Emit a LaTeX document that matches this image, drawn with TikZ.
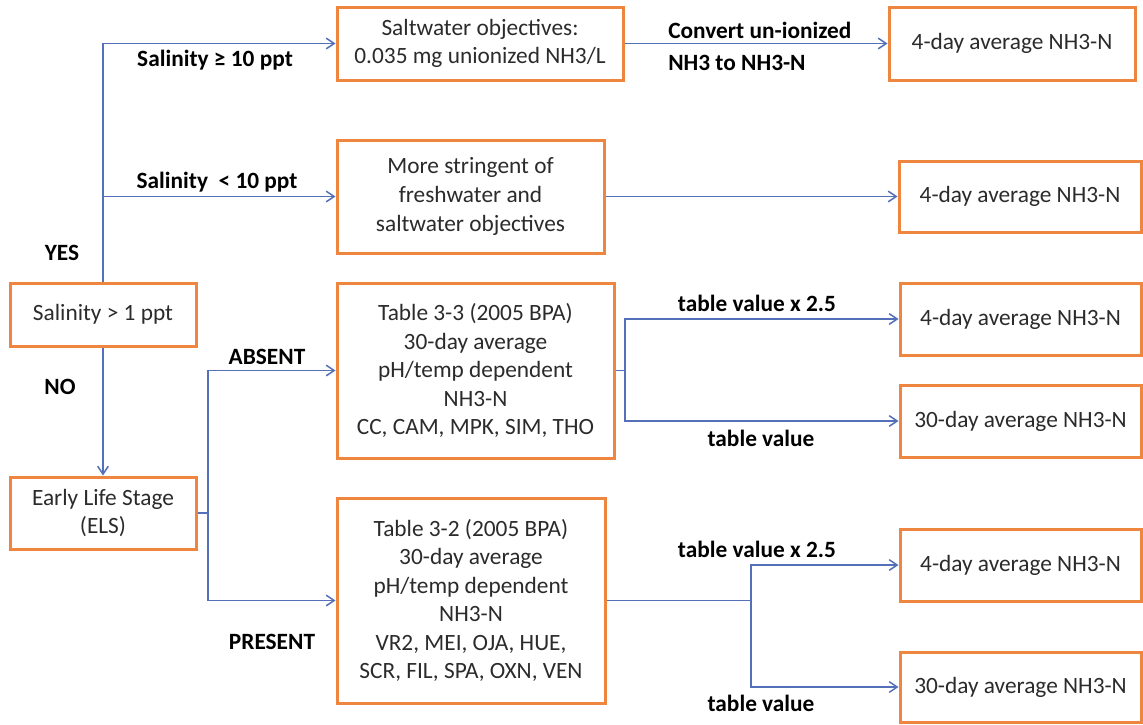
\documentclass[tikz,border=0pt]{standalone}
\usepackage{fontspec}
\setmainfont{Carlito}
\usetikzlibrary{arrows.meta}
\definecolor{boxorange}{HTML}{EE8640}
\definecolor{linkblue}{HTML}{5470B8}
\definecolor{textgray}{HTML}{2B2B2B}
\tikzset{
  box/.style={draw=boxorange, line width=2.25pt, fill=white, align=center,
    inner sep=0pt, text=textgray, font=\fontsize{17.5}{21.4}\selectfont},
  lbl/.style={font=\fontsize{17.5}{24}\selectfont\bfseries, text=black, inner sep=0pt},
  arr/.style={draw=linkblue, line width=1.1pt, -{Straight Barb[length=6pt,width=8pt]}},
  lnk/.style={draw=linkblue, line width=1.1pt}
}
\begin{document}
\begin{tikzpicture}[x=0.75pt, y=-0.75pt]
\useasboundingbox[fill=white] (0,0) rectangle (1143,725);
% left boxes
\node[box, minimum width=139.5pt, minimum height=47.25pt] (sal1) at (103,314.5) {Salinity > 1 ppt};
\node[box, minimum width=139.5pt, minimum height=54pt] (els) at (103,513) {Early Life Stage\\(ELS)};
% middle boxes
\node[box, minimum width=214.5pt, minimum height=54.75pt] (salt) at (480,43.5) {Saltwater objectives:\\0.035 mg unionized NH3/L};
\node[box, minimum width=200.25pt, minimum height=84.75pt] (strin) at (470.5,196.5) {More stringent of\\freshwater and\\saltwater objectives};
\node[box, minimum width=207.75pt, minimum height=131.25pt] (t33) at (475.5,370.5) {Table 3-3 (2005 BPA)\\30-day average\\pH/temp dependent\\NH3-N\\CC, CAM, MPK, SIM, THO};
\node[box, minimum width=201pt, minimum height=153.75pt] (t32) at (471,600.5) {Table 3-2 (2005 BPA)\\30-day average\\pH/temp dependent\\NH3-N\\VR2, MEI, OJA, HUE,\\SCR, FIL, SPA, OXN, VEN};
% right boxes
\node[box, minimum width=184.5pt, minimum height=54.75pt] (r1) at (1012,43.5) {4-day average NH3-N};
\node[box, minimum width=181.5pt, minimum height=53.25pt] (r2) at (1020,196.5) {4-day average NH3-N};
\node[box, minimum width=180.75pt, minimum height=54pt] (r3) at (1020.5,319) {4-day average NH3-N};
\node[box, minimum width=180.75pt, minimum height=54pt] (r4) at (1020.5,421) {30-day average NH3-N};
\node[box, minimum width=180.75pt, minimum height=54pt] (r5) at (1020.5,565) {4-day average NH3-N};
\node[box, minimum width=180.75pt, minimum height=52.5pt] (r6) at (1020.5,687) {30-day average NH3-N};
% junctions
\coordinate (j1) at (208,513);
\coordinate (j2) at (625,370.5);
\coordinate (j3) at (751,600.5);
% connectors
\draw[arr] (sal1.north) |- (salt.west);
\draw[arr] (sal1.north) |- (strin.west);
\draw[arr] (sal1.south) -- (els.north);
\draw[lnk] (els.east) -- (j1);
\draw[arr] (j1) |- (t33.west);
\draw[arr] (j1) |- (t32.west);
\draw[arr] (salt.east) -- (r1.west);
\draw[arr] (strin.east) -- (r2.west);
\draw[lnk] (t33.east) -- (j2);
\draw[arr] (j2) |- (r3.west);
\draw[arr] (j2) |- (r4.west);
\draw[lnk] (t32.east) -- (j3);
\draw[arr] (j3) |- (r5.west);
\draw[arr] (j3) |- (r6.west);
% labels
\node[lbl] (l1) at (215,60) {Salinity ≥ 10 ppt};
\node[lbl] (l2) at (217,182) {Salinity\ \ < 10 ppt};
\node[lbl] (lyes) at (62,253) {YES};
\node[lbl] (lno) at (60,387) {NO};
\node[lbl] (labs) at (267,357) {ABSENT};
\node[lbl] (lpres) at (272,642) {PRESENT};
\node[lbl, anchor=west, align=left] (lconv) at (668,46) {Convert un-ionized\\NH3 to NH3-N};
\node[lbl] (lt1) at (757,303) {table value x 2.5};
\node[lbl] (lt2) at (761,438) {table value};
\node[lbl] (lt3) at (757,549) {table value x 2.5};
\node[lbl] (lt4) at (761,703) {table value};
\end{tikzpicture}
\end{document}
